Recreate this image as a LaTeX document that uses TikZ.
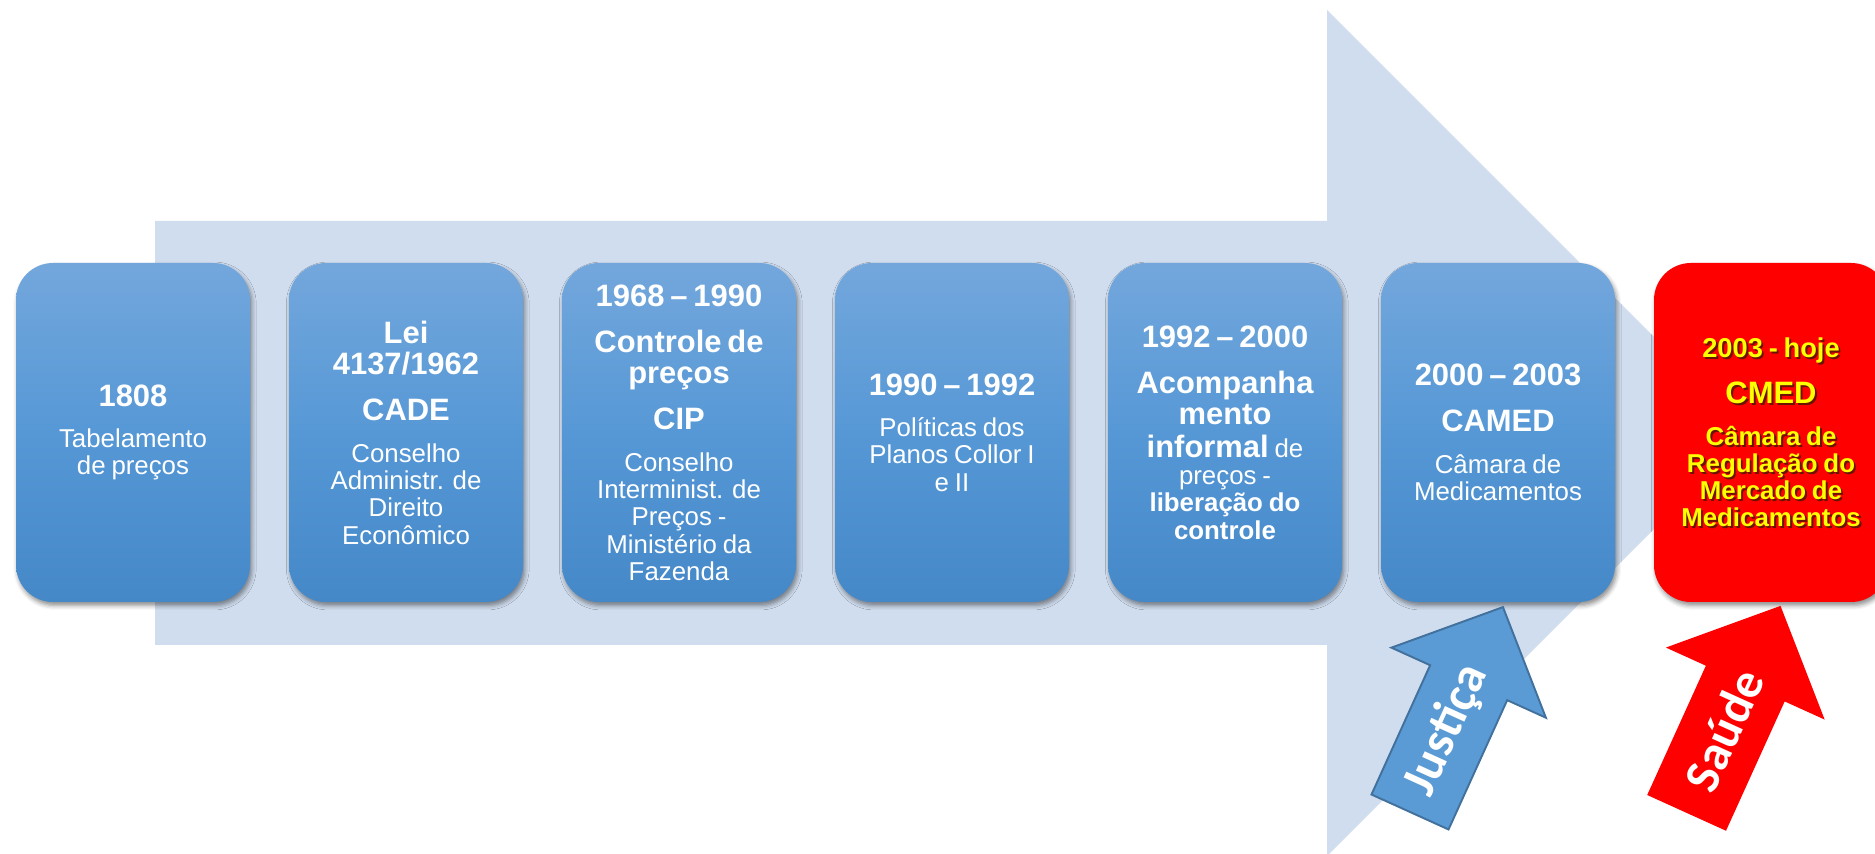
\documentclass[tikz,border=0pt]{standalone}
\usepackage{fontspec}
\setmainfont{Liberation Sans}
\newfontfamily\fonteseta{Carlito}
\usepackage{tikz}
\usetikzlibrary{positioning,shadows.blur}
\definecolor{fundoseta}{RGB}{208,221,238}
\definecolor{azulclaro}{RGB}{115,167,220}
\definecolor{azulmedio}{RGB}{86,152,214}
\definecolor{azulescuro}{RGB}{69,136,200}
\definecolor{azulseta}{RGB}{91,155,213}
\definecolor{azulborda}{RGB}{65,113,156}
\definecolor{vermelho}{RGB}{255,0,0}
\definecolor{amarelo}{RGB}{255,255,0}
\definecolor{sombra}{RGB}{105,20,0}
\newcommand\titulo{\fontsize{17.6}{18}\selectfont\bfseries}
\newcommand\corpo{\fontsize{14.7}{15.5}\selectfont}
\newcommand\textocmed{{\fontsize{15.5}{18}\selectfont\bfseries 2003 - hoje\\[8.2pt]}%
  {\titulo CMED\\[8.2pt]}%
  {\corpo\bfseries Câmara de\\Regulação do\\Mercado de\\Medicamentos\par}}

\begin{document}
\begin{tikzpicture}[
  cartao/.style={rounded corners=0.74cm, minimum width=4.68cm,
                 minimum height=6.78cm, text width=4.5cm, align=center,
                 inner sep=0pt},
  caixa/.style={cartao, text=white, top color=azulclaro,
                bottom color=azulescuro, middle color=azulmedio,
                blur shadow={shadow xshift=1pt, shadow yshift=-2pt,
                             shadow blur radius=2.5pt, shadow opacity=45}},
  destaque/.style={cartao, fill=vermelho,
                   blur shadow={shadow xshift=1pt, shadow yshift=-2pt,
                                shadow blur radius=2.5pt, shadow opacity=45}},
  textocaixa/.style={text width=4.5cm, align=center, inner sep=0pt},
  rotuloseta/.style={transform shape, text=white,
                     font=\fonteseta\fontsize{28.5}{30}\selectfont\bfseries},
]
\useasboundingbox (0,0) rectangle (37.5,17.06);
% --- Seta grande ao fundo ----------------------------------------------------
\fill[fundoseta] (3.10,4.16) -- (26.54,4.16) -- (26.54,-0.06) -- (35.0,8.40)
  -- (26.54,16.86) -- (26.54,12.64) -- (3.10,12.64) -- cycle;
% --- Etapas ------------------------------------------------------------------
\node[caixa] (c1808) at (2.66,8.41)
  {{\titulo 1808\\[8.2pt]}{\corpo Tabelamento\\de preços\par}};
\node[caixa] (cade) at (8.12,8.41)
  {{\titulo Lei\\4137/1962\\[8.2pt]CADE\\[8.2pt]}%
   {\corpo Conselho\\Administr. de\\Direito\\Econômico\par}};
\node[caixa] (cip) at (13.58,8.41)
  {{\titulo 1968 – 1990\\[8.2pt]Controle de\\preços\\[8.2pt]CIP\\[8.2pt]}%
   {\corpo Conselho\\Interminist. de\\Preços -\\Ministério da\\Fazenda\par}};
\node[caixa] (collor) at (19.04,8.41)
  {{\titulo 1990 – 1992\\[8.2pt]}{\corpo Políticas dos\\Planos Collor I\\e II\par}};
\node[caixa] (informal) at (24.50,8.41)
  {{\titulo 1992 – 2000\\[8.2pt]Acompanha\\mento\\[3pt]informal}%
   {\corpo\ de\\preços -\\\bfseries liberação do\\controle\par}};
\node[caixa] (camed) at (29.96,8.41)
  {{\titulo 2000 – 2003\\[8.2pt]CAMED\\[8.2pt]}{\corpo Câmara de\\Medicamentos\par}};
% --- CMED em destaque --------------------------------------------------------
\node[destaque] (cmed) at (35.42,8.41) {};
\node[textocaixa, text=sombra] (cmedsombra) at ([xshift=1.1pt,yshift=-1.1pt]cmed.center)
  {\textocmed};
\node[textocaixa, text=amarelo] (cmedtexto) at (cmed.center) {\textocmed};
% --- Setas Justiça e Saúde ---------------------------------------------------
\foreach \x/\cor/\borda/\nome/\txt in {28.20/azulseta/azulborda/justica/Justiça,
                                        33.74/vermelho/vermelho/saude/Saúde} {
  \begin{scope}[shift={(\x,0.82)}, rotate=65.6]
    \filldraw[fill=\cor, draw=\borda, line width=1.1pt, line join=miter]
      (0,-0.846) -- (2.84,-0.846) -- (2.84,-1.696) -- (4.5,0)
      -- (2.84,1.696) -- (2.84,0.846) -- (0,0.846) -- cycle;
    \node[rotuloseta] (\nome) at (1.8,0) {\txt};
  \end{scope}
}
\end{tikzpicture}
\end{document}
